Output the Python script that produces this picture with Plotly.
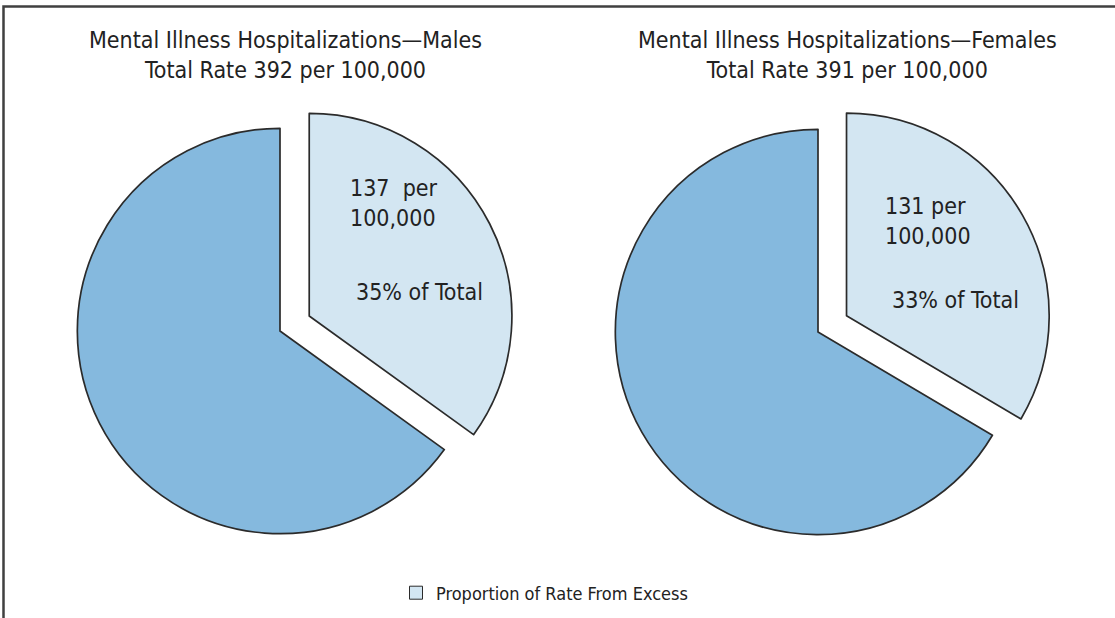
import plotly.graph_objects as go

# Hospitalization rates per 100,000
groups = ["Males", "Females"]
total_rates = [392, 391]
excess_rates = [137, 131]
excess_pct_labels = ["35%", "33%"]
slice_labels = ["Proportion of Rate From Excess", "Remaining Rate"]

W, H = 1115, 618
FONT = "Liberation Sans Narrow, DejaVu Sans Condensed, Arial Narrow, sans-serif"
EXCESS_COLOR = "#D3E6F2"
REST_COLOR = "#85B9DE"
EDGE = "#2b2b2b"

def px_x(x):
    return x / W

def px_y(y):
    return 1 - y / H

fig = go.Figure()

pull = 0.162
half = 235.5
centers = [(280, 331), (818, 332)]

for i, g in enumerate(groups):
    cx, cy = centers[i]
    fig.add_trace(go.Pie(
        labels=slice_labels,
        values=[excess_rates[i], total_rates[i] - excess_rates[i]],
        sort=False,
        direction="clockwise",
        rotation=0,
        pull=[pull, 0],
        textinfo="none",
        hoverinfo="label+value",
        marker=dict(colors=[EXCESS_COLOR, REST_COLOR], line=dict(color=EDGE, width=1.7)),
        domain=dict(x=[px_x(cx - half), px_x(cx + half)],
                    y=[px_y(cy + half), px_y(cy - half)]),
        showlegend=False,
    ))

# legend entry drawn from a placeholder trace
fig.add_trace(go.Scatter(
    x=[None], y=[None], mode="markers",
    name=slice_labels[0],
    marker=dict(symbol="square", size=13, color=EXCESS_COLOR,
                line=dict(color=EDGE, width=1)),
    showlegend=True,
))

annotations = []
title_cx = [285, 847]
for i, g in enumerate(groups):
    annotations.append(dict(
        x=px_x(title_cx[i]), y=px_y(55), xref="paper", yref="paper",
        text=f"Mental Illness Hospitalizations\u2014{g}<br>Total Rate {total_rates[i]} per 100,000",
        showarrow=False, xanchor="center", yanchor="middle", align="center",
        font=dict(family=FONT, size=23, color="#222222"),
    ))

rate_pos = [(348, 203), (883, 221)]
pct_pos = [(354, 292), (890, 300)]
rate_text = ["{} &nbsp;per<br>100,000", "{} per<br>100,000"]
for i, g in enumerate(groups):
    rx, ry = rate_pos[i]
    annotations.append(dict(
        x=px_x(rx), y=px_y(ry), xref="paper", yref="paper",
        text=rate_text[i].format(excess_rates[i]),
        showarrow=False, xanchor="left", yanchor="middle", align="left",
        font=dict(family=FONT, size=23, color="#222222"),
    ))
    qx, qy = pct_pos[i]
    annotations.append(dict(
        x=px_x(qx), y=px_y(qy), xref="paper", yref="paper",
        text=f"{excess_pct_labels[i]} of Total",
        showarrow=False, xanchor="left", yanchor="middle", align="left",
        font=dict(family=FONT, size=23, color="#222222"),
    ))

fig.update_layout(
    width=W, height=H,
    margin=dict(l=0, r=0, t=0, b=0),
    paper_bgcolor="white", plot_bgcolor="white",
    xaxis=dict(visible=False), yaxis=dict(visible=False),
    annotations=annotations,
    legend=dict(x=px_x(396), y=px_y(593), xanchor="left", yanchor="middle",
                font=dict(family=FONT, size=18, color="#222222"),
                bgcolor="rgba(0,0,0,0)"),
    shapes=[dict(type="rect", xref="paper", yref="paper",
                 x0=px_x(3.5), x1=px_x(W + 20), y0=px_y(H + 20), y1=px_y(6.5),
                 line=dict(color="#404040", width=2.5), fillcolor="rgba(0,0,0,0)",
                 layer="below")],
)

fig.write_html("out.html")
